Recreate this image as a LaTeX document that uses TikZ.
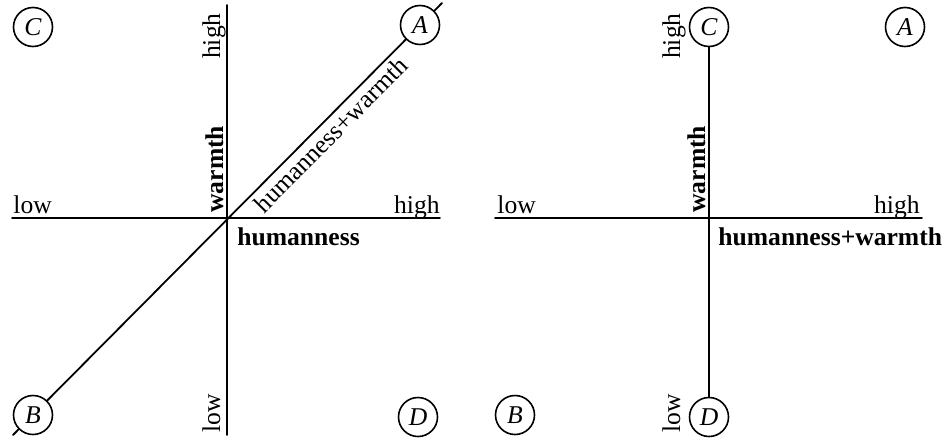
\documentclass[tikz,border=0pt]{standalone}
\usepackage{fontspec}
\setmainfont{Liberation Serif}
\begin{document}
\begin{tikzpicture}[x=0.5pt,y=0.5pt,line cap=round,line join=round,
  every node/.style={font=\fontsize{12.8pt}{15pt}\selectfont,inner sep=0pt},
  axis/.style={line width=0.9pt},
  corner/.style={circle,draw,line width=0.8pt,fill=white,minimum size=19.5pt,font=\fontsize{12.8pt}{15pt}\selectfont\itshape}]
  \useasboundingbox (-227,-221) rectangle (718,218);
  % Left: humanness and warmth as two axes, their sum on the diagonal.
  \coordinate (t1) at (0,213);
  \coordinate (b1) at (0,-217);
  \coordinate (l1) at (-215,0);
  \coordinate (r1) at (213,0);
  \coordinate (lo1) at (-214,-217);
  \coordinate (hi1) at (215,215);
  \draw[axis] (t1)--(b1) (l1)--(r1);
  \draw[axis] (lo1)-- node[pos=.718,sloped,below=2pt] {humanness+warmth} (hi1);
  \node[corner] (C1) at (-194,191) {C};
  \node[corner] (A1) at (193,193) {A};
  \node[corner] (B1) at (-194,-197) {B};
  \node[corner] (D1) at (191,-199) {D};
  \node[anchor=base west] (lowx1) at (-214,5) {low};
  \node[anchor=base east] (highx1) at (213,5) {high};
  \node[rotate=90,anchor=base east] (highy1) at (-7,205) {high};
  \node[rotate=90,anchor=base west] (lowy1) at (-7,-215) {low};
  \node[rotate=90,anchor=base west] (warmth1) at (-4,5) {\bfseries warmth};
  \node[anchor=base west] (human1) at (10,-27) {\bfseries humanness};

  % Right: humanness+warmth as one axis, C and D on the warmth axis.
  \coordinate (l2) at (268,0);
  \coordinate (r2) at (695,0);
  \draw[axis] (l2)--(r2);
  \node[corner] (C2) at (482,191) {C};
  \node[corner] (A2) at (678,191) {A};
  \node[corner] (B2) at (288,-197) {B};
  \node[corner] (D2) at (482,-199) {D};
  \draw[axis] (C2)--(D2);
  \node[anchor=base west] (lowx2) at (270,5) {low};
  \node[anchor=base east] (highx2) at (693,5) {high};
  \node[rotate=90,anchor=base east] (highy2) at (453,205) {high};
  \node[rotate=90,anchor=base west] (lowy2) at (453,-215) {low};
  \node[rotate=90,anchor=base west] (warmth2) at (478,5) {\bfseries warmth};
  \node[anchor=base west] (human2) at (491,-27) {\bfseries humanness+warmth};
\end{tikzpicture}
\end{document}
